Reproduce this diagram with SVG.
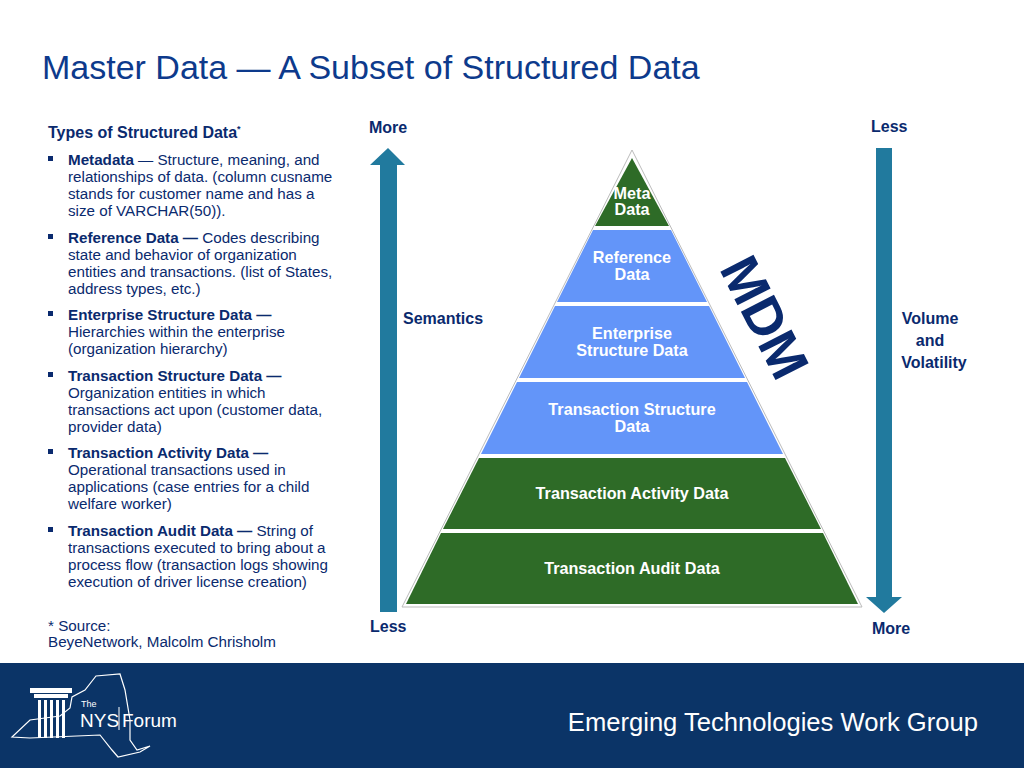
<svg xmlns="http://www.w3.org/2000/svg" width="1024" height="768" viewBox="0 0 1024 768">
<style>
text{font-family:"Liberation Sans",Arial,sans-serif}
.b{font-size:15.2px;fill:#0a2a6e}
.bb{font-weight:bold}
.lbl{font-size:16px;font-weight:bold;fill:#0a2a6e}
.pl{font-size:16.2px;font-weight:bold;fill:#fff;text-anchor:middle}
.g{fill:#2e6b27}
.bl{fill:#6395f9}
.arr{fill:#217a9e}
</style>
<rect width="1024" height="768" fill="#fff"/>
<text x="42" y="79" font-size="34" fill="#0d3a8c">Master Data — A Subset of Structured Data</text>
<g id="text-list" class="b">
<text x="48" y="138" class="bb" font-size="16">Types of Structured Data<tspan font-size="9" dy="-6">*</tspan></text>
<g fill="#0a2a6e"><rect x="48" y="156" width="5" height="5"/><rect x="48" y="234" width="5" height="5"/><rect x="48" y="311" width="5" height="5"/><rect x="48" y="372" width="5" height="5"/><rect x="48" y="449" width="5" height="5"/><rect x="48" y="527" width="5" height="5"/></g>
<text x="68" y="165"><tspan class="bb">Metadata</tspan> — Structure, meaning, and</text>
<text x="68" y="182">relationships of data. (column cusname</text>
<text x="68" y="199">stands for customer name and has a</text>
<text x="68" y="216">size of VARCHAR(50)).</text>
<text x="68" y="243"><tspan class="bb">Reference Data —</tspan> Codes describing</text>
<text x="68" y="260">state and behavior of organization</text>
<text x="68" y="277">entities and transactions. (list of States,</text>
<text x="68" y="294">address types, etc.)</text>
<text x="68" y="320" class="bb">Enterprise Structure Data —</text>
<text x="68" y="337">Hierarchies within the enterprise</text>
<text x="68" y="354">(organization hierarchy)</text>
<text x="68" y="381" class="bb">Transaction Structure Data —</text>
<text x="68" y="398">Organization entities in which</text>
<text x="68" y="415">transactions act upon (customer data,</text>
<text x="68" y="432">provider data)</text>
<text x="68" y="458" class="bb">Transaction Activity Data —</text>
<text x="68" y="475">Operational transactions used in</text>
<text x="68" y="492">applications (case entries for a child</text>
<text x="68" y="509">welfare worker)</text>
<text x="68" y="536"><tspan class="bb">Transaction Audit Data —</tspan> String of</text>
<text x="68" y="553">transactions executed to bring about a</text>
<text x="68" y="570">process flow (transaction logs showing</text>
<text x="68" y="587">execution of driver license creation)</text>
<text x="48" y="631">* Source:</text>
<text x="48" y="647">BeyeNetwork, Malcolm Chrisholm</text>
</g>
<g id="arrows">
<polygon class="arr" points="380,612 397,612 397,165 405,165 388,148 370,165 380,165"/>
<polygon class="arr" points="876,148 892,148 892,597 902,597 884,613 866,597 876,597"/>
</g>
<g id="axis-labels" class="lbl">
<text x="369" y="133">More</text>
<text x="370" y="632">Less</text>
<text x="403" y="324">Semantics</text>
<text x="871" y="132">Less</text>
<text x="872" y="634">More</text>
<text x="930" y="324" text-anchor="middle">Volume</text>
<text x="930" y="346" text-anchor="middle">and</text>
<text x="934" y="368" text-anchor="middle">Volatility</text>
</g>
<g id="pyramid">
<polygon points="632,150 862,607 402,607" fill="#fff" stroke="#bbb" stroke-width="1"/>
<g id="meta"><polygon class="g" points="632,158 669,226 595,226"/><text class="pl" x="632" y="199" font-size="13.5">Meta</text><text class="pl" x="632" y="215" font-size="13.5">Data</text></g>
<g id="reference"><polygon class="bl" points="593,230 671,230 707,302 557,302"/><text class="pl" x="632" y="263">Reference</text><text class="pl" x="632" y="280">Data</text></g>
<g id="enterprise"><polygon class="bl" points="555,306 709,306 745,378 519,378"/><text class="pl" x="632" y="339">Enterprise</text><text class="pl" x="632" y="356">Structure Data</text></g>
<g id="tstructure"><polygon class="bl" points="517,382 747,382 783,454 481,454"/><text class="pl" x="632" y="415">Transaction Structure</text><text class="pl" x="632" y="432">Data</text></g>
<g id="tactivity"><polygon class="g" points="479,458 785,458 821,529 443,529"/><text class="pl" x="632" y="499">Transaction Activity Data</text></g>
<g id="taudit"><polygon class="g" points="441,533 823,533 858,604 406,604"/><text class="pl" x="632" y="574">Transaction Audit Data</text></g>
</g>
<text x="0" y="0" font-size="54" font-weight="bold" fill="#0a2a6e" text-anchor="middle" transform="translate(748,326) rotate(63)">MDM</text>
<g id="footer">
<rect x="0" y="663" width="1024" height="105" fill="#0b3467"/>
<text x="978" y="731" font-size="25.6" fill="#fff" text-anchor="end">Emerging Technologies Work Group</text>
<g fill="none" stroke="#fff" stroke-width="1.2">
<path d="M12,737 L30,720 L60,716 L70,708 L72,697 L85,690 L96,676 L120,674 L125,690 L130,720 L130,740 L137,750 L150,746 L140,752 L118,757 L112,750 L100,735 L30,738 Z"/>
</g>
<g fill="#fff">
<rect x="30" y="688" width="42" height="5"/>
<rect x="34" y="694" width="34" height="4"/>
<rect x="38" y="700" width="3" height="38"/><rect x="44" y="700" width="3" height="38"/><rect x="50" y="700" width="3" height="38"/><rect x="56" y="700" width="3" height="38"/><rect x="62" y="700" width="3" height="38"/>
</g>
<g fill="#fff"><text x="81" y="707" font-size="9">The</text><text x="80" y="727" font-size="19">NYS</text><text x="122" y="727" font-size="19">Forum</text></g>
<line x1="119" y1="707" x2="119" y2="730" stroke="#fff" stroke-width="1"/>
</g>
</svg>
